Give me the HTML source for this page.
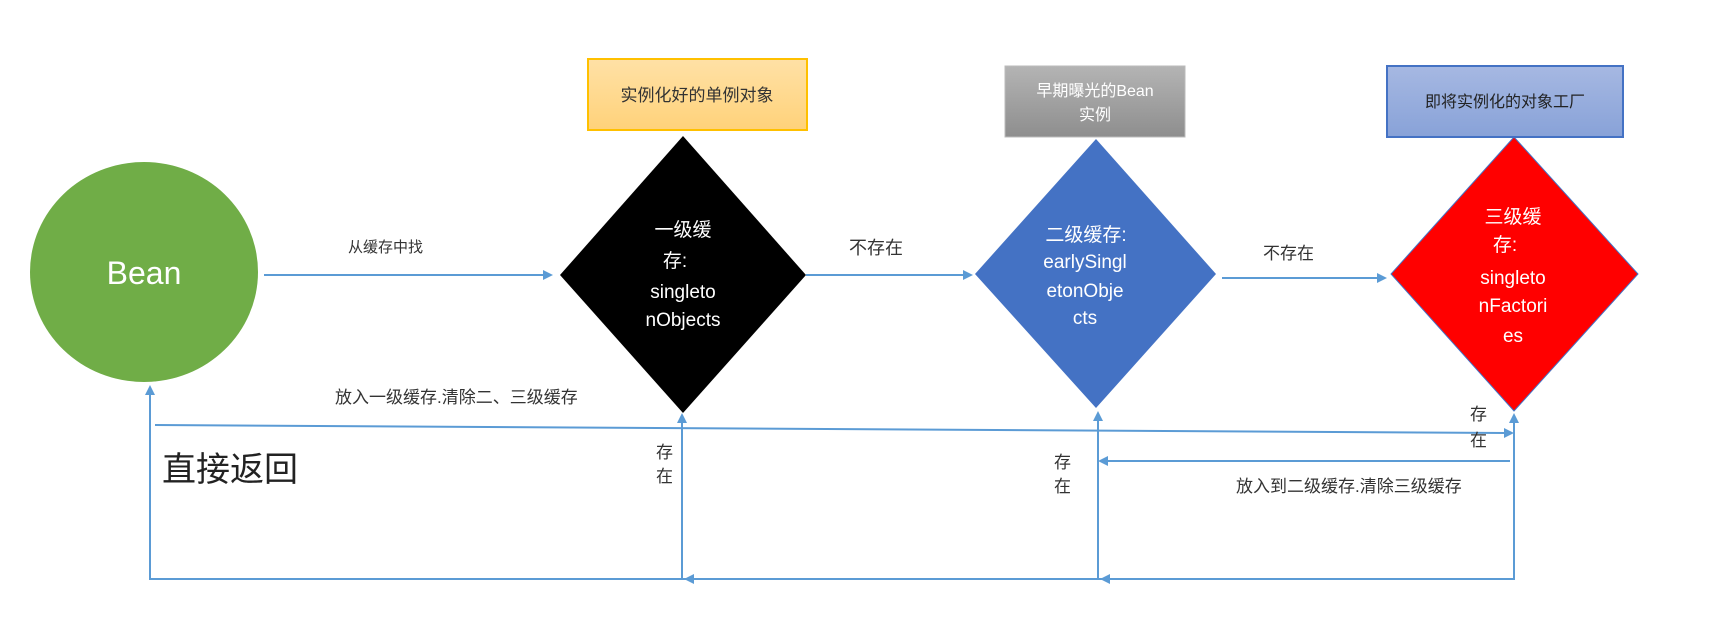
<!DOCTYPE html>
<html><head><meta charset="utf-8"><style>
html,body{margin:0;padding:0;background:#fff;}
svg{display:block;}
text{font-family:"Liberation Sans","Noto Sans CJK SC",sans-serif;}
</style></head><body>
<svg width="1711" height="632" viewBox="0 0 1711 632" xmlns="http://www.w3.org/2000/svg">
<defs>
<linearGradient id="gy" x1="0" y1="0" x2="0" y2="1"><stop offset="0" stop-color="#FFE1A6"/><stop offset="1" stop-color="#FFD27A"/></linearGradient>
<linearGradient id="gg" x1="0" y1="0" x2="0" y2="1"><stop offset="0" stop-color="#b4b4b4"/><stop offset="1" stop-color="#8e8e8e"/></linearGradient>
<linearGradient id="gb" x1="0" y1="0" x2="0" y2="1"><stop offset="0" stop-color="#A6B8E2"/><stop offset="1" stop-color="#88A2D8"/></linearGradient>
</defs>
<!-- circle -->
<ellipse cx="144" cy="272" rx="114" ry="110" fill="#70AD47"/>
<text x="144" y="284" font-size="32" fill="#fff" text-anchor="middle">Bean</text>
<!-- boxes -->
<rect x="588" y="59" width="219" height="71" fill="url(#gy)" stroke="#FFC000" stroke-width="2"/>
<text x="697" y="101" font-size="17" fill="#333" text-anchor="middle">实例化好的单例对象</text>
<rect x="1005" y="66" width="180" height="71" fill="url(#gg)" stroke="#bbb" stroke-width="1"/>
<text x="1095" y="96" font-size="16" fill="#fff" text-anchor="middle">早期曝光的Bean</text>
<text x="1095" y="120" font-size="16" fill="#fff" text-anchor="middle">实例</text>
<rect x="1387" y="66" width="236" height="71" fill="url(#gb)" stroke="#4472C4" stroke-width="2"/>
<text x="1505" y="107" font-size="16" fill="#222" text-anchor="middle">即将实例化的对象工厂</text>
<!-- diamonds -->
<polygon points="683,136 806,275 683,413 560,275" fill="#000"/>
<text font-size="19" fill="#fff" text-anchor="middle"><tspan x="683" y="236">一级缓</tspan><tspan x="675" y="267">存:</tspan><tspan x="683" y="298">singleto</tspan><tspan x="683" y="326">nObjects</tspan></text>
<polygon points="1096,139 1216,274 1096,408 975,274" fill="#4472C4"/>
<text font-size="19" fill="#fff" text-anchor="middle"><tspan x="1086" y="241">二级缓存:</tspan><tspan x="1085" y="268">earlySingl</tspan><tspan x="1085" y="297">etonObje</tspan><tspan x="1085" y="324">cts</tspan></text>
<polygon points="1514,137 1638,274 1514,411 1391,274" fill="#FF0000" stroke="#4472C4" stroke-width="1"/>
<text font-size="19" fill="#fff" text-anchor="middle"><tspan x="1513" y="223">三级缓</tspan><tspan x="1505" y="251">存:</tspan><tspan x="1513" y="284">singleto</tspan><tspan x="1513" y="312">nFactori</tspan><tspan x="1513" y="342">es</tspan></text>
<!-- connectors -->
<g stroke="#5B9BD5" stroke-width="2" fill="none">
<line x1="264" y1="275" x2="545" y2="275"/>
<line x1="806" y1="275" x2="965" y2="275"/>
<line x1="1222" y1="278" x2="1379" y2="278"/>
<line x1="155" y1="425" x2="1506" y2="433"/>
<line x1="1510" y1="461" x2="1106" y2="461"/>
<polyline points="1514,421 1514,579 150,579 150,393"/>
<line x1="682" y1="579" x2="682" y2="421"/>
<line x1="1098" y1="579" x2="1098" y2="419"/>
</g>
<g fill="#5B9BD5">
<polygon points="553,275 543,270 543,280"/>
<polygon points="973,275 963,270 963,280"/>
<polygon points="1387,278 1377,273 1377,283"/>
<polygon points="1514,433 1504,428 1504,438"/>
<polygon points="1098,461 1108,456 1108,466"/>
<polygon points="1514,413 1509,423 1519,423"/>
<polygon points="682,413 677,423 687,423"/>
<polygon points="1098,411 1093,421 1103,421"/>
<polygon points="150,385 145,395 155,395"/>
<polygon points="1100,579 1110,574 1110,584"/>
<polygon points="684,579 694,574 694,584"/>
</g>
<!-- labels -->
<text x="348" y="252" font-size="15" fill="#333">从缓存中找</text>
<text x="849" y="254" font-size="18" fill="#333">不存在</text>
<text x="1263" y="259" font-size="17" fill="#333">不存在</text>
<text x="335" y="403" font-size="17" fill="#333">放入一级缓存.清除二、三级缓存</text>
<text x="162" y="481" font-size="34" fill="#222">直接返回</text>
<text font-size="17" fill="#333"><tspan x="656" y="458">存</tspan><tspan x="656" y="482">在</tspan></text>
<text font-size="17" fill="#333"><tspan x="1054" y="468">存</tspan><tspan x="1054" y="492">在</tspan></text>
<text font-size="17" fill="#333"><tspan x="1470" y="420">存</tspan><tspan x="1470" y="446">在</tspan></text>
<text x="1236" y="492" font-size="17" fill="#333">放入到二级缓存.清除三级缓存</text>
</svg>
</body></html>
